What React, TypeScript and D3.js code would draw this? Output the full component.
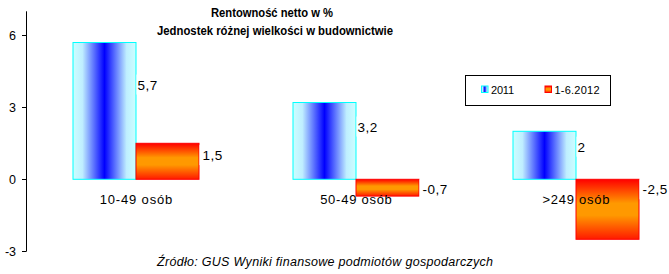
import React from "react";
import * as d3 from "d3";

const categories = ["10-49 osób", "50-49 osób", ">249 osób"];
const seriesNames = ["2011", "1-6.2012"];
const values2011 = [5.7, 3.2, 2];
const values2012 = [1.5, -0.7, -2.5];
const yTicks = [-3, 0, 3, 6];
const titleLines = ["Rentowność netto w %", "Jednostek różnej wielkości w budownictwie"];
const sourceText = "Źródło: GUS Wyniki finansowe podmiotów gospodarczych";

const W = 669;
const H = 274;
const FONT = "'Liberation Sans', Arial, sans-serif";

export default function App() {
  const y = d3.scaleLinear().domain([-3, 7]).range([251.3, 11.3]);
  const x0 = d3.scaleBand<string>().domain(categories).range([26, 686]).paddingInner(0).paddingOuter(0);
  const x1 = d3
    .scaleBand<string>()
    .domain(seriesNames)
    .range([0, x0.bandwidth()])
    .paddingInner(0)
    .paddingOuter(0.746);
  const fmt = (v: number) => d3.format("")(v).replace(".", ",").replace("−", "-");
  const series = [
    { name: seriesNames[0], values: values2011, fill: "url(#gBlue)", stroke: "#00ffff" },
    { name: seriesNames[1], values: values2012, fill: "url(#gOrange)", stroke: "#ff0000" },
  ];
  const zero = y(0);
  const labelY = (v: number) => (v >= 0 ? y(v * 0.7) + 1 : zero + 10);
  const catTextLen = [72.7, 71.7, 67];

  return (
    <svg
      width={W}
      height={H}
      style={{ position: "fixed", left: 0, top: 0, background: "#fff" }}
      fontFamily={FONT}
    >
      <defs>
        <linearGradient id="gBlue" x1="0" y1="0" x2="1" y2="0">
          <stop offset="0" stopColor="#ccffff" />
          <stop offset="0.15" stopColor="#bfeeff" />
          <stop offset="0.5" stopColor="#0000ff" />
          <stop offset="0.85" stopColor="#bfeeff" />
          <stop offset="1" stopColor="#ccffff" />
        </linearGradient>
        <linearGradient id="gOrange" x1="0" y1="0" x2="0" y2="1">
          <stop offset="0" stopColor="#ff0000" />
          <stop offset="0.4" stopColor="#ff9900" />
          <stop offset="0.6" stopColor="#ff9900" />
          <stop offset="1" stopColor="#ff1a00" />
        </linearGradient>
      </defs>
      <rect x={0} y={0} width={W} height={H} fill="#fff" />

      {/* title */}
      {titleLines.map((t, i) => (
        <text
          key={t}
          x={i === 0 ? 272 : 275}
          y={17 + i * 18}
          textAnchor="middle"
          fontSize={12.5}
          fontWeight="bold"
          textLength={i === 0 ? 122 : 236}
          lengthAdjust="spacingAndGlyphs"
        >
          {t}
        </text>
      ))}

      {/* y axis */}
      <line x1={26.5} x2={26.5} y1={y(7)} y2={y(-3)} stroke="#000" />
      {yTicks.map((t) => (
        <g key={t}>
          <line x1={22} x2={26.5} y1={Math.round(y(t)) + 0.5} y2={Math.round(y(t)) + 0.5} stroke="#000" />
          <text x={16} y={y(t) + 4.5} textAnchor="end" fontSize={12.5}>
            {t}
          </text>
        </g>
      ))}

      {/* bars */}
      {categories.map((c, ci) => (
        <g key={c}>
          {series.map((s) => {
            const v = s.values[ci];
            const bx = (x0(c) as number) + (x1(s.name) as number);
            const bw = x1.bandwidth();
            const top = Math.min(y(v), zero);
            const h = Math.abs(y(v) - zero);
            return (
              <rect key={s.name} x={bx} y={top} width={bw} height={h} fill={s.fill} stroke={s.stroke} strokeWidth={1} />
            );
          })}
        </g>
      ))}

      {/* category labels */}
      {categories.map((c, ci) => (
        <text
          key={c}
          x={(x0(c) as number) + x0.bandwidth() / 2}
          y={204}
          textAnchor="middle"
          fontSize={13}
          textLength={catTextLen[ci]}
          lengthAdjust="spacing"
        >
          {c}
        </text>
      ))}

      {/* data labels */}
      {categories.map((c, ci) => (
        <g key={c}>
          {series.map((s, si) => {
            const v = s.values[ci];
            const bx = (x0(c) as number) + (x1(s.name) as number) + x1.bandwidth();
            const ly = labelY(v);
            const txt = fmt(v);
            const tw = txt.length * 6.8;
            const gap = si === 0 ? 1.5 : 3.5;
            return (
              <g key={s.name}>
                <rect x={bx + 0.5} y={ly - 10} width={tw + gap + 1} height={20} fill="#fff" />
                <text x={bx + gap} y={ly + 5} fontSize={13.5} letterSpacing={0.5}>
                  {txt}
                </text>
              </g>
            );
          })}
        </g>
      ))}

      {/* legend */}
      <rect x={465.5} y={75.5} width={145} height={30} fill="#fff" stroke="#000" />
      {series.map((s, i) => {
        const lx = i === 0 ? 481.5 : 545;
        return (
          <g key={s.name}>
            <rect x={lx} y={86} width={6.5} height={6.5} fill={s.fill} stroke={s.stroke} />
            <text
              x={lx + 9.5}
              y={93.5}
              fontSize={11}
              textLength={i === 0 ? 23 : 45}
              lengthAdjust="spacing"
            >
              {s.name}
            </text>
          </g>
        );
      })}

      {/* source */}
      <text x={157} y={266} fontSize={12.5} fontStyle="italic" textLength={336} lengthAdjust="spacing">
        {sourceText}
      </text>
    </svg>
  );
}
